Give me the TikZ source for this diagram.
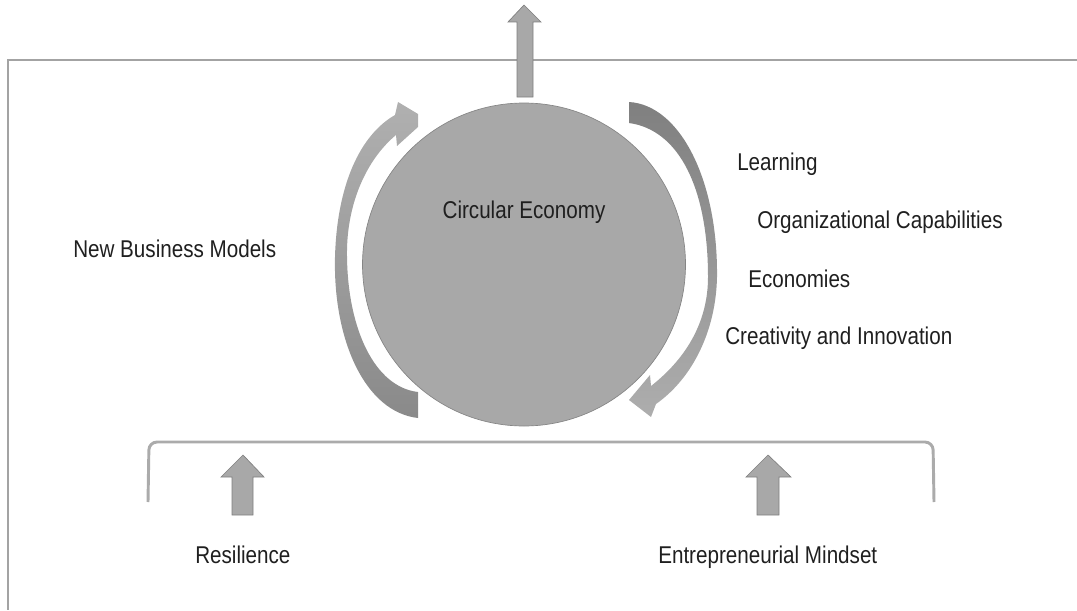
\documentclass[tikz,border=0pt]{standalone}
\usepackage{fontspec}
\setmainfont{Liberation Sans}[FakeStretch=0.85]
\begin{document}
\begin{tikzpicture}[x=0.75pt,y=-0.75pt,
  lbl/.style={anchor=base west,inner sep=0pt,text=black!88,font=\fontsize{18.2pt}{20pt}\selectfont},
  framel/.style={draw=black!36,line width=1.5pt},
  bracketl/.style={draw=black!33,line width=2.2pt,rounded corners=6pt},
  blockarrow/.style={fill=black!34,draw=black!50,line width=0.5pt},
  ball/.style={circle,fill=black!34,draw=black!48,line width=0.5pt,minimum size=242.25pt,inner sep=0pt}]
\useasboundingbox (0,0) rectangle (1077,610);
% frame
\coordinate (f1) at (1077,60);
\coordinate (f2) at (8,60);
\coordinate (f3) at (8,610);
\draw[framel] (f1) -- (f2) -- (f3);
% top arrow
\path[blockarrow] (517,97) -- (517,22) -- (508,22) -- (524,5) -- (541,22) -- (533,22) -- (533,97) -- cycle;
% circle
\node[ball] (ce) at (524,264.5) {};
\node[anchor=base,inner sep=0pt,text=black!88,font=\fontsize{18.2pt}{20pt}\selectfont] (cet) at (524,218) {Circular Economy};
% left curved arrow
\shade[top color=black!31,bottom color=black!46]
  (418,418) .. controls (365,412) and (333,340) .. (335,257)
  .. controls (337,185) and (360,135) .. (395,115)
  -- (398,102) -- (418,114) -- (418,127) -- (397,146) -- (396,135)
  .. controls (366,160) and (346,205) .. (347,257)
  .. controls (348,330) and (375,387) .. (418,392) -- cycle;
% right curved arrow
\shade[top color=black!50,bottom color=black!32]
  (629,102) .. controls (680,105) and (718,180) .. (717,277)
  .. controls (716,330) and (693,378) .. (656,404)
  -- (651,417) -- (629,400) -- (650,375) -- (651,386)
  .. controls (688,357) and (708,320) .. (708,277)
  .. controls (708,190) and (680,130) .. (629,123) -- cycle;
% labels
\node[lbl] (nbm) at (73,257) {New Business Models};
\node[lbl] (lrn) at (737,170) {Learning};
\node[lbl] (org) at (757,228) {Organizational Capabilities};
\node[lbl] (eco) at (748,287) {Economies};
\node[lbl] (cre) at (725,344) {Creativity and Innovation};
% bracket
\coordinate (b1) at (148,502);
\coordinate (b2) at (149,442);
\coordinate (b3) at (933,442);
\coordinate (b4) at (934,502);
\draw[bracketl] (b1) -- (b2) -- (b3) -- (b4);
% small arrows
\path[blockarrow] (232,515) -- (232,477) -- (221,477) -- (243,455) -- (264,477) -- (253,477) -- (253,515) -- cycle;
\path[blockarrow] (757,515) -- (757,477) -- (746,477) -- (768,455) -- (791,477) -- (779,477) -- (779,515) -- cycle;
\node[lbl] (res) at (195,563) {Resilience};
\node[lbl] (ent) at (658,563) {Entrepreneurial Mindset};
\end{tikzpicture}
\end{document}
